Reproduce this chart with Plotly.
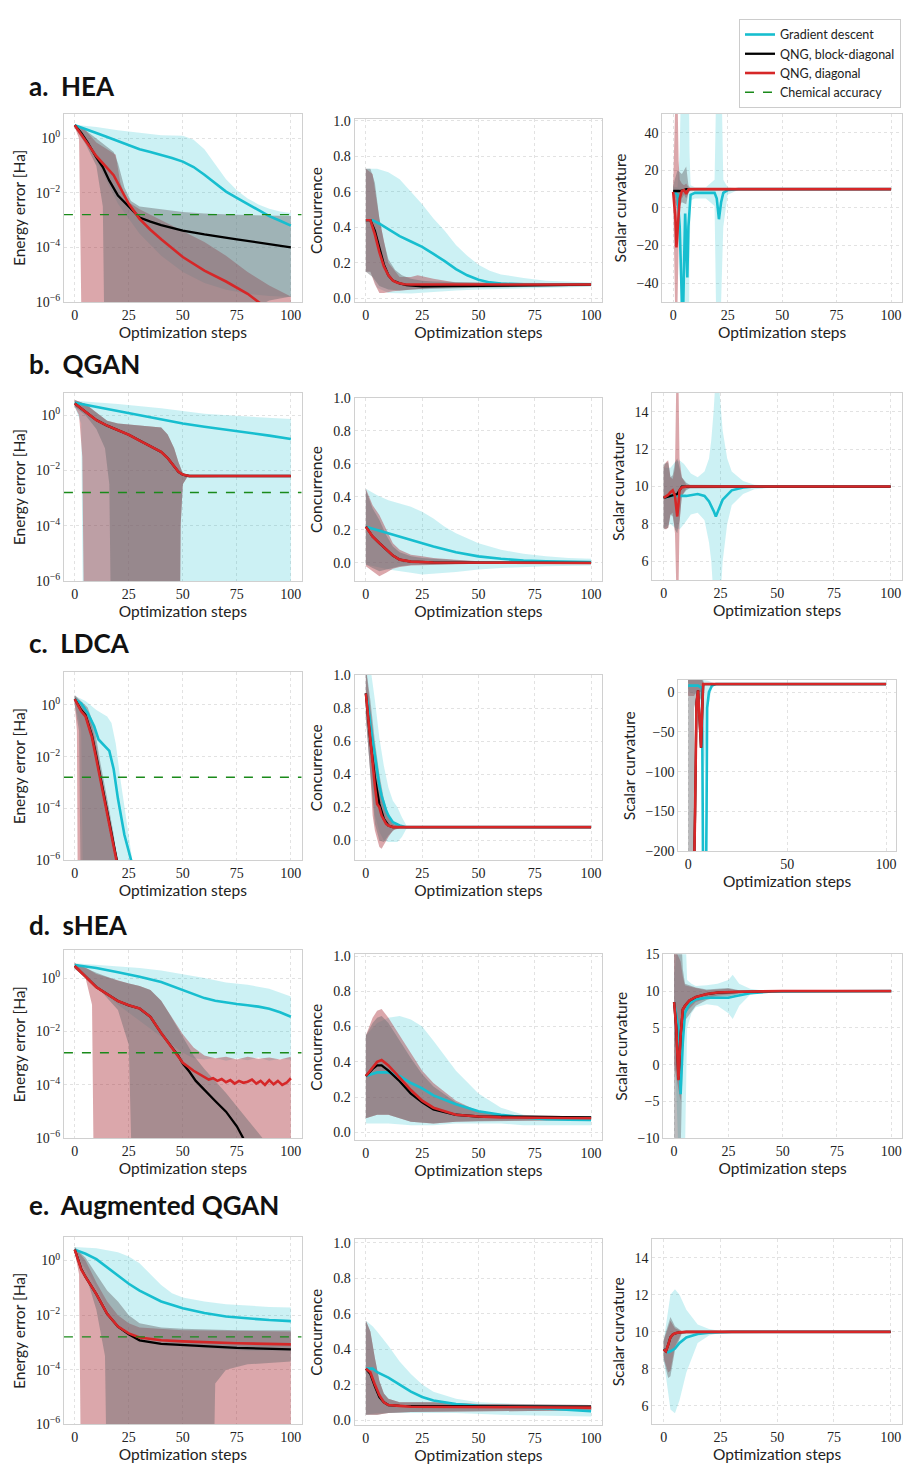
import plotly.graph_objects as go

# ---------------- DATA ----------------
CHEM_ACC = 1.6e-3
STEP_RANGE = [-5, 105]
ROW_TITLES = ["a.\u00a0 HEA", "b.\u00a0 QGAN", "c.\u00a0 LDCA", "d.\u00a0 sHEA", "e.\u00a0 Augmented QGAN"]
METHODS = ["Gradient descent", "QNG, block-diagonal", "QNG, diagonal"]

# energy values are stored as log10(energy error / Ha)
# ---- a. HEA ----
a_en_gd_x = [0,5,10,15,20,25,30,35,40,45,50,55,60,65,70,75,80,85,90,95,100]
a_en_gd = [0.48,0.35,0.2,0.05,-0.1,-0.27,-0.4,-0.5,-0.6,-0.72,-0.85,-1.05,-1.33,-1.65,-1.95,-2.18,-2.4,-2.6,-2.85,-3.02,-3.2]
a_en_gd_hx = [0,10,20,30,40,50,55,60,65,70,75,80,85,90,95,100]
a_en_gd_hi = [0.5,0.42,0.3,0.2,0.12,0.1,-0.05,-0.4,-0.95,-1.5,-1.9,-2.2,-2.42,-2.58,-2.68,-2.74]
a_en_gd_lx = [0,5,10,15,20,30,40,50,60,70,80,90,100]
a_en_gd_lo = [0.42,-0.1,-0.8,-1.6,-2.4,-3.5,-4.3,-4.9,-5.3,-5.55,-5.7,-5.78,-5.82]
a_en_bd_x = [0,3,6,10,13,16,20,25,30,35,40,50,60,75,90,100]
a_en_bd = [0.48,0.2,-0.15,-0.7,-1.05,-1.55,-2.1,-2.5,-2.9,-3.05,-3.18,-3.38,-3.52,-3.7,-3.88,-4.0]
a_en_bd_hx = [0,5,10,15,18,20,23,26,30,40,50,60,75,100]
a_en_bd_hi = [0.5,0.3,0.0,-0.3,-0.5,-0.9,-1.8,-2.3,-2.5,-2.6,-2.7,-2.75,-2.8,-2.85]
a_en_bd_lx = [0,5,10,13,14,84,86,90,100]
a_en_bd_lo = [0.4,-0.2,-1.0,-2.5,-9,-9,-6.1,-5.95,-5.8]
a_en_qd_x = [0,3,6,10,14,18,21,25,30,35,40,50,60,70,80,85,90,100]
a_en_qd = [0.48,0.15,-0.2,-0.65,-1.0,-1.35,-1.8,-2.4,-2.95,-3.35,-3.7,-4.35,-4.85,-5.25,-5.7,-6.0,-6.3,-6.8]
a_en_qd_hx = [0,5,10,15,19,21,24,30,40,50,60,70,80,90,100]
a_en_qd_hi = [0.5,0.3,-0.15,-0.4,-0.6,-1.6,-2.3,-2.6,-3.0,-3.4,-3.8,-4.3,-4.9,-5.4,-5.8]
a_en_qd_lx = [0,2,3.5,100]
a_en_qd_lo = [0.42,0.0,-9,-9]

a_co_gd_x = [0,3,6,10,15,20,25,30,35,40,45,50,55,60,70,100]
a_co_gd = [0.44,0.44,0.42,0.39,0.35,0.32,0.29,0.25,0.21,0.165,0.13,0.105,0.09,0.083,0.079,0.077]
a_co_gd_hx = [0,5,10,15,20,25,30,35,40,45,50,55,60,70,80,90,100]
a_co_gd_hi = [0.73,0.73,0.71,0.67,0.6,0.53,0.45,0.38,0.3,0.24,0.19,0.155,0.135,0.115,0.1,0.095,0.09]
a_co_gd_lx = [0,2,5,10,20,30,40,50,60,80,100]
a_co_gd_lo = [0.15,0.15,0.06,0.03,0.028,0.035,0.045,0.05,0.055,0.06,0.065]
a_co_bd_x = [0,2,4,6,8,10,12,15,18,25,40,60,100]
a_co_bd = [0.44,0.44,0.38,0.28,0.19,0.13,0.1,0.085,0.075,0.068,0.07,0.074,0.077]
a_co_bd_hx = [0,2,4,6,8,10,13,16,20,25,30,50,100]
a_co_bd_hi = [0.73,0.73,0.65,0.45,0.32,0.22,0.16,0.13,0.11,0.1,0.095,0.09,0.085]
a_co_bd_lx = [0,3,6,10,15,20,30,50,100]
a_co_bd_lo = [0.15,0.12,0.07,0.05,0.045,0.05,0.055,0.06,0.07]
a_co_qd_x = [0,2,4,6,8,10,12,14,17,20,100]
a_co_qd = [0.44,0.44,0.36,0.26,0.18,0.13,0.1,0.088,0.08,0.078,0.078]
a_co_qd_hx = [0,3,6,10,15,20,23,30,40,100]
a_co_qd_hi = [0.73,0.7,0.45,0.2,0.12,0.12,0.13,0.11,0.09,0.082]
a_co_qd_lx = [0,2,4,6,8,12,20,30,50,100]
a_co_qd_lo = [0.15,0.15,0.08,0.03,0.03,0.04,0.05,0.06,0.07,0.075]

a_cu_gd_x = [0,1,2,3,4,4.5,5,5.5,6,6.5,7,8,10,15,19,20,21,22,23,25,30,100]
a_cu_gd = [8.5,8,7,-10,-50,-60,-30,-3,-20,-37,-10,7,8,8,8,5,-6,3,8,9.5,10,10]
a_cu_gd_hx = [0,2,3,3.5,4,7,7.5,8,10,15,19,20,21,22,23,25,30,100]
a_cu_gd_hi = [11,11,30,80,90,90,30,12,11,11,15,80,90,80,15,11,10.3,10.05]
a_cu_gd_lx = a_cu_gd_hx
a_cu_gd_lo = [6,5,-10,-80,-90,-90,-30,4,5,5,1,-80,-90,-80,-10,7,9.7,9.95]
a_cu_bd_x = [0,3,5,6,100]
a_cu_bd = [9,9,9.5,10,10]
a_cu_bd_hx = [0,2,4,6,7,8,10,100]
a_cu_bd_hi = [12,20,18,22,12,10.5,10.2,10.05]
a_cu_bd_lx = a_cu_bd_hx
a_cu_bd_lo = [5,0,3,2,8,9.5,9.8,9.95]
a_cu_qd_x = [0,1,1.5,2,3,4,5,6,7,8,100]
a_cu_qd = [8.5,-5,-21,-10,5,9,9.5,7.5,9.8,10,10]
a_cu_qd_hx = [0,1,1.5,2,2.5,3,4,5,6,7,8,100]
a_cu_qd_hi = [12,60,80,60,25,15,13,12,13,11,10.3,10.1]
a_cu_qd_lx = a_cu_qd_hx
a_cu_qd_lo = [5,-60,-80,-60,-20,0,5,7,5,8,9.7,9.9]

# ---- b. QGAN ----
b_en_gd_x = [0,10,20,30,40,50,60,70,80,90,100]
b_en_gd = [0.45,0.3,0.14,-0.02,-0.17,-0.3,-0.42,-0.52,-0.63,-0.74,-0.86]
b_en_gd_hx = [0,20,40,50,60,80,100]
b_en_gd_hi = [0.52,0.4,0.25,0.15,0.05,-0.05,-0.14]
b_en_gd_lx = [0,3,4,100]
b_en_gd_lo = [0.3,-0.3,-9,-9]
b_en_bd_x = [0,5,10,15,20,25,30,35,40,43,46,48,50,53,100]
b_en_bd = [0.42,0.12,-0.18,-0.38,-0.54,-0.71,-0.92,-1.13,-1.33,-1.55,-1.85,-2.05,-2.15,-2.2,-2.2]
b_en_bd_hx = [0,5,10,15,20,30,40,43,46,48,50,52,100]
b_en_bd_hi = [0.55,0.4,0.1,-0.2,-0.3,-0.38,-0.45,-0.7,-1.2,-1.7,-2.1,-2.18,-2.18]
b_en_bd_lx = [0,5,10,14,16,17,48.5,49,50,52,100]
b_en_bd_lo = [0.3,0.0,-0.5,-1.2,-2.5,-9,-9,-4,-2.5,-2.25,-2.22]
b_en_qd_x = [0,5,10,15,20,25,30,35,40,43,46,48,50,53,100]
b_en_qd = [0.42,0.12,-0.18,-0.38,-0.54,-0.71,-0.92,-1.13,-1.33,-1.55,-1.85,-2.05,-2.15,-2.2,-2.2]
b_en_qd_hx = [0,5,10,15,20,30,40,43,46,48,50,52,100]
b_en_qd_hi = [0.55,0.4,0.1,-0.2,-0.3,-0.38,-0.45,-0.7,-1.2,-1.7,-2.1,-2.18,-2.18]
b_en_qd_lx = [0,2,3.5,4.5,48.5,49,50,52,100]
b_en_qd_lo = [0.3,0.0,-1.5,-9,-9,-4,-2.5,-2.25,-2.22]

b_co_gd_x = [0,10,20,25,30,40,50,60,70,80,100]
b_co_gd = [0.22,0.18,0.14,0.12,0.1,0.065,0.04,0.025,0.015,0.01,0.005]
b_co_gd_hx = [0,5,10,20,25,30,35,40,50,60,70,80,90,100]
b_co_gd_hi = [0.45,0.41,0.38,0.34,0.31,0.27,0.22,0.18,0.12,0.08,0.055,0.04,0.03,0.025]
b_co_gd_lx = [0,10,20,25,30,40,50,60,80,100]
b_co_gd_lo = [-0.01,-0.04,-0.06,-0.07,-0.065,-0.055,-0.04,-0.03,-0.02,-0.015]
b_co_bd_x = [0,3,6,9,12,15,20,30,40,100]
b_co_bd = [0.22,0.16,0.12,0.08,0.045,0.02,0.008,0.003,0.002,0.0]
b_co_bd_hx = [0,3,6,9,12,15,20,25,30,40,50,100]
b_co_bd_hi = [0.44,0.33,0.26,0.17,0.1,0.065,0.04,0.03,0.025,0.015,0.008,0.004]
b_co_bd_lx = [0,3,6,9,12,15,20,30,50,100]
b_co_bd_lo = [-0.01,-0.03,-0.05,-0.04,-0.03,-0.02,-0.012,-0.008,-0.004,-0.002]
b_co_qd_x = [0,3,6,9,12,15,20,30,40,100]
b_co_qd = [0.22,0.16,0.12,0.08,0.045,0.02,0.008,0.003,0.002,0.0]
b_co_qd_hx = [0,3,6,9,12,15,20,25,30,40,50,100]
b_co_qd_hi = [0.45,0.35,0.29,0.2,0.12,0.08,0.05,0.04,0.03,0.02,0.01,0.005]
b_co_qd_lx = [0,3,6,9,12,15,20,30,50,100]
b_co_qd_lo = [-0.02,-0.05,-0.08,-0.06,-0.035,-0.025,-0.015,-0.01,-0.005,-0.003]

b_cu_gd_x = [0,3,10,15,18,20,22,23,24,26,30,35,40,100]
b_cu_gd = [9.4,9.5,9.5,9.6,9.5,9.2,8.7,8.4,8.7,9.3,9.8,9.95,10,10]
b_cu_gd_hx = [0,3,5,7,9,12,15,18,20,21,22,23,24,25,26,28,30,35,40,50,100]
b_cu_gd_hi = [11,11,11.3,11.4,11.2,10.7,10.5,10.8,11.5,12.5,14,16,16,14.5,13,11.5,10.8,10.3,10.1,10.02,10.0]
b_cu_gd_lx = b_cu_gd_hx
b_cu_gd_lo = [7.8,8,7.8,7.7,8,8.5,8.6,8.2,7,6,4,0,0,4,6,8,9,9.6,9.85,9.97,10]
b_cu_bd_x = [0,3,5,6,8,100]
b_cu_bd = [9.4,9.5,9.6,9.6,10,10]
b_cu_bd_hx = [0,2,3,4,5,6,7,8,10,12,100]
b_cu_bd_hi = [11.2,11.3,10.5,10.6,11.3,11.5,11,10.5,10.2,10.05,10.0]
b_cu_bd_lx = b_cu_bd_hx
b_cu_bd_lo = [7.7,7.8,8.5,8.4,7.7,7.5,8.2,9.5,9.8,9.95,10]
b_cu_qd_x = [0,2,3,4,5,5.5,6,6.5,7,8,10,100]
b_cu_qd = [9.4,9.55,9.7,9.8,9.5,9.0,8.4,9.0,9.8,9.95,10,10]
b_cu_qd_hx = [0,1,2,3,4,5,5.5,6,6.5,7,8,10,100]
b_cu_qd_hi = [11,11.3,11.4,10.5,10.4,11,15,20,16,11.5,10.5,10.1,10.02]
b_cu_qd_lx = b_cu_qd_hx
b_cu_qd_lo = [7.8,7.7,7.8,8.5,8.6,7.5,5,0,4,8,9.5,9.9,9.98]

# ---- c. LDCA ----
c_en_gd_x = [0,3,6,9,11,14,16,18,20,23,26,28]
c_en_gd = [0.22,0.05,-0.32,-0.83,-1.34,-1.6,-1.78,-2.48,-3.63,-5.03,-6.0,-6.6]
c_en_gd_hx = [0,5,10,15,17,19,21,23,25,27,29]
c_en_gd_hi = [0.35,0.15,-0.2,-0.45,-0.7,-1.5,-2.8,-4,-5,-6.2,-7]
c_en_gd_lx = [0,3,4,29]
c_en_gd_lo = [0.1,-1,-9,-9]
c_en_bd_x = [0,3,5,8,10,13,16,19,21]
c_en_bd = [0.22,-0.2,-0.4,-1.2,-2.0,-3.3,-4.6,-5.8,-6.6]
c_en_bd_hx = [0,3,6,9,12,15,18,20,22]
c_en_bd_hi = [0.38,0.15,-0.1,-0.8,-2.3,-3.6,-5,-6.2,-7]
c_en_bd_lx = [0,2,3,22]
c_en_bd_lo = [0,-1,-9,-9]
c_en_qd_x = [0,3,5,8,10,13,16,19,20]
c_en_qd = [0.22,-0.25,-0.45,-1.27,-2.1,-3.38,-4.65,-5.9,-6.3]
c_en_qd_hx = [0,3,5,8,10,13,16,19,21]
c_en_qd_hi = [0.35,0.1,-0.1,-0.8,-1.6,-3,-4.3,-5.6,-6.5]
c_en_qd_lx = [0,1,1.5,21]
c_en_qd_lo = [0,-1,-9,-9]

c_co_gd_x = [0,1,2,3,4,5,6,7,8,9,10,12,15,18,100]
c_co_gd = [0.89,0.82,0.7,0.6,0.5,0.4,0.33,0.27,0.22,0.18,0.15,0.11,0.09,0.08,0.08]
c_co_gd_hx = [0,2,4,6,8,10,12,14,16,18,19,100]
c_co_gd_hi = [1.05,1.05,0.85,0.62,0.45,0.32,0.24,0.2,0.14,0.09,0.08,0.08]
c_co_gd_lx = [0,2,4,6,8,10,14,16,18,19,100]
c_co_gd_lo = [0.75,0.4,0.15,0.05,0.0,-0.01,-0.01,0.02,0.07,0.08,0.08]
c_co_bd_x = [0,2,4,6,8,10,12,100]
c_co_bd = [0.89,0.6,0.38,0.22,0.13,0.09,0.08,0.08]
c_co_bd_hx = [0,2,4,6,8,10,12,15,100]
c_co_bd_hi = [1.05,0.85,0.6,0.4,0.25,0.15,0.1,0.085,0.08]
c_co_bd_lx = [0,2,4,6,8,10,13,100]
c_co_bd_lo = [0.75,0.4,0.1,0.0,-0.01,0.03,0.07,0.08]
c_co_qd_x = [0,1,2,3,4,5,6,7,8,9,10,12,15,100]
c_co_qd = [0.89,0.75,0.58,0.44,0.33,0.22,0.2,0.15,0.12,0.1,0.09,0.08,0.08,0.08]
c_co_qd_hx = [0,2,4,6,8,10,12,15,100]
c_co_qd_hi = [1.05,0.8,0.55,0.35,0.22,0.14,0.1,0.085,0.08]
c_co_qd_lx = [0,2,3,4,6,7,8,10,12,15,100]
c_co_qd_lo = [0.75,0.4,0.15,0.06,-0.04,-0.05,-0.03,0.02,0.06,0.075,0.08]

c_cu_gd_x = [0,5,7,7.3,7.6,8.5,9,9.3,9.6,10.5,12,14,100]
c_cu_gd = [8,8,5,-100,-250,-300,-250,-150,-20,0,8,10,10]
c_cu_gd_hx = [0,7,8,10,12,14,100]
c_cu_gd_hi = [15,15,15,14,12,10.5,10]
c_cu_gd_lx = c_cu_gd_hx
c_cu_gd_lo = [0,-5,-100,-20,5,9.5,10]
c_cu_bd_x = [0,2.5,3.5,4.2,5,5.5,6,6.5,7,7.6,10,100]
c_cu_bd = [-400,-300,-150,-14,2,-20,-50,-70,-30,10,10,10]
c_cu_bd_hx = [0,7,8,10,100]
c_cu_bd_hi = [20,20,11,10.2,10]
c_cu_bd_lx = [0,2.8,3,4,5,6,7,8,10,100]
c_cu_bd_lo = [-400,-400,-20,-10,-5,-10,-5,9,9.8,10]
c_cu_qd_x = [0,2.5,3.5,4.2,5,5.5,6,6.5,7,7.6,10,100]
c_cu_qd = [-400,-300,-150,-14,2,-20,-50,-70,-30,10,10,10]
c_cu_qd_hx = [0,7,8,100]
c_cu_qd_hi = [15,15,10.5,10]
c_cu_qd_lx = [0,3,4,7,8,100]
c_cu_qd_lo = [-5,-5,0,0,9.5,10]

# ---- d. sHEA ----
d_en_gd_x = [0,10,20,30,40,50,55,60,65,70,75,80,85,90,95,100]
d_en_gd = [0.49,0.38,0.22,0.05,-0.15,-0.45,-0.62,-0.75,-0.85,-0.92,-0.97,-1.02,-1.07,-1.15,-1.28,-1.45]
d_en_gd_hx = [0,10,20,30,40,50,60,70,80,90,100]
d_en_gd_hi = [0.55,0.5,0.45,0.38,0.28,0.15,0.0,-0.17,-0.25,-0.4,-0.69]
d_en_gd_lx = [0,10,20,30,40,50,55,60,65,70,75,80,85,90,95,100]
d_en_gd_lo = [0.4,-0.3,-1.0,-1.6,-2.2,-2.8,-3.0,-3.05,-2.98,-3.1,-3.0,-3.08,-2.97,-3.1,-3.02,-3.05]
d_en_bd_x = [0,10,20,25,30,35,40,45,48,50,53,56,60,65,70,75,80]
d_en_bd = [0.45,-0.34,-0.86,-1.02,-1.14,-1.45,-2.06,-2.61,-2.92,-3.2,-3.5,-3.85,-4.2,-4.6,-5.0,-5.55,-6.3]
d_en_bd_hx = [0,10,20,30,35,40,45,50,55,60,70,80,87,95]
d_en_bd_hi = [0.55,0.2,-0.1,-0.3,-0.45,-0.85,-1.5,-2.2,-2.9,-3.4,-4.3,-5.3,-6.0,-6.8]
d_en_bd_lx = [0,10,20,25,27,95]
d_en_bd_lo = [0.35,-0.3,-1.2,-2.5,-9,-9]
d_en_qd_x = [0,10,20,25,30,35,40,45,48,50,55,60,62,64,66,68,70,72,74,76,78,80,82,84,86,88,90,92,94,96,98,100]
d_en_qd = [0.45,-0.34,-0.86,-1.02,-1.14,-1.45,-2.06,-2.61,-2.92,-3.17,-3.47,-3.72,-3.8,-3.75,-3.85,-3.78,-3.9,-3.82,-3.95,-3.85,-3.92,-3.88,-3.8,-3.95,-3.85,-4.0,-3.82,-3.98,-3.85,-4.0,-3.92,-3.75]
d_en_qd_hx = [0,5,10,20,25,30,35,40,45,50,55,60,65,70,75,80,85,90,95,100]
d_en_qd_hi = [0.55,0.4,0.15,-0.1,-0.2,-0.3,-0.45,-0.85,-1.5,-2.1,-2.6,-2.9,-3.0,-2.95,-3.05,-2.95,-3.02,-2.97,-3.05,-2.95]
d_en_qd_lx = [0,5,8,9,100]
d_en_qd_lo = [0.35,0.0,-1.0,-9,-9]

d_co_gd_x = [0,5,10,15,20,25,30,40,50,60,70,80,90,100]
d_co_gd = [0.32,0.34,0.34,0.32,0.28,0.25,0.21,0.16,0.12,0.1,0.085,0.075,0.072,0.07]
d_co_gd_hx = [0,5,10,15,20,25,30,40,50,60,70,80,100]
d_co_gd_hi = [0.55,0.62,0.65,0.66,0.64,0.6,0.52,0.35,0.22,0.14,0.1,0.09,0.09]
d_co_gd_lx = [0,5,10,20,30,40,50,60,70,80,100]
d_co_gd_lo = [0.05,0.05,0.05,0.04,0.04,0.05,0.05,0.05,0.04,0.04,0.04]
d_co_bd_x = [0,3,5,7,10,15,20,25,30,40,50,100]
d_co_bd = [0.32,0.36,0.38,0.38,0.35,0.29,0.22,0.17,0.13,0.1,0.09,0.085]
d_co_bd_hx = [0,3,5,7,10,15,20,25,30,40,50,60,100]
d_co_bd_hi = [0.55,0.62,0.65,0.66,0.62,0.52,0.42,0.33,0.26,0.17,0.12,0.1,0.09]
d_co_bd_lx = [0,5,10,15,20,30,40,50,100]
d_co_bd_lo = [0.08,0.1,0.1,0.08,0.06,0.05,0.06,0.065,0.07]
d_co_qd_x = [0,3,5,7,10,15,20,25,30,40,50,60,100]
d_co_qd = [0.32,0.37,0.4,0.41,0.38,0.31,0.24,0.18,0.14,0.1,0.09,0.085,0.08]
d_co_qd_hx = [0,3,5,7,10,15,20,25,30,40,50,60,100]
d_co_qd_hi = [0.55,0.65,0.69,0.7,0.65,0.55,0.45,0.35,0.28,0.18,0.12,0.1,0.09]
d_co_qd_lx = [0,5,10,15,20,30,40,50,100]
d_co_qd_lo = [0.08,0.1,0.1,0.08,0.06,0.05,0.06,0.065,0.07]

d_cu_gd_x = [0,1,2,3,4,5,7,10,15,20,25,28,35,45,100]
d_cu_gd = [8.5,7,5,-4,3,7,8.3,8.9,9.1,9.1,9.1,9.3,9.7,9.95,10]
d_cu_gd_hx = [0,2,3,5,6,8,10,15,20,25,27,30,35,40,50,100]
d_cu_gd_hi = [12,20,20,20,11.5,11,10.7,10.8,11,11.5,12.2,11,10.3,10.1,10,10]
d_cu_gd_lx = d_cu_gd_hx
d_cu_gd_lo = [5,-12,-12,-12,5,7,7.8,8.2,8.0,7,6.2,8,9.5,9.8,10,10]
d_cu_bd_x = [0,1,2,3,4,5,7,10,15,20,30,50,100]
d_cu_bd = [8.5,5,-2,4,7.5,8.0,8.7,9.2,9.6,9.8,9.9,10,10]
d_cu_bd_hx = [0,3,4,5,10,15,20,25,30,40,100]
d_cu_bd_hi = [20,20,13,11,10.5,10.2,10.3,10.4,10.1,10,10]
d_cu_bd_lx = d_cu_bd_hx
d_cu_bd_lo = [-12,-12,2,6,8,8.8,9.2,9.3,9.6,9.9,10]
d_cu_qd_x = [0,1,2,3,4,5,7,10,15,20,30,50,100]
d_cu_qd = [8.5,5,-2.1,4,7.5,8.0,8.7,9.2,9.6,9.8,9.9,10,10]
d_cu_qd_hx = [0,3,4,5,10,15,20,25,30,40,100]
d_cu_qd_hi = [16,14,12,10.8,10.4,10.1,10.2,10.3,10.05,10,10]
d_cu_qd_lx = d_cu_qd_hx
d_cu_qd_lo = [0,-5,4,7,8.5,9,9.4,9.5,9.7,9.95,10]

# ---- e. Augmented QGAN ----
e_en_gd_x = [0,5,10,15,20,25,30,35,40,50,60,70,80,90,100]
e_en_gd = [0.4,0.25,0.05,-0.25,-0.55,-0.85,-1.1,-1.3,-1.5,-1.75,-1.92,-2.05,-2.12,-2.18,-2.22]
e_en_gd_hx = [0,10,20,25,30,35,40,45,50,60,70,80,90,100]
e_en_gd_hi = [0.5,0.45,0.3,0.15,-0.1,-0.5,-0.9,-1.2,-1.35,-1.5,-1.6,-1.65,-1.7,-1.72]
e_en_gd_lx = [0,5,10,15,20,30,40,60,80,100]
e_en_gd_lo = [0.3,-0.3,-1.0,-1.8,-2.4,-2.8,-3.0,-3.2,-3.3,-3.3]
e_en_bd_x = [0,3,5,10,15,20,25,30,40,50,75,100]
e_en_bd = [0.4,-0.3,-0.6,-1.23,-1.95,-2.42,-2.7,-2.92,-3.05,-3.1,-3.2,-3.25]
e_en_bd_hx = [0,5,10,15,20,25,30,40,50,75,100]
e_en_bd_hi = [0.5,0.1,-0.5,-1.1,-1.5,-2.0,-2.3,-2.45,-2.5,-2.55,-2.55]
e_en_bd_lx = [0,5,10,14,15,64,65,70,80,100]
e_en_bd_lo = [0.3,-0.5,-1.8,-3.5,-9,-9,-4.5,-4.0,-3.8,-3.7]
e_en_qd_x = [0,3,5,10,15,20,25,30,40,50,75,100]
e_en_qd = [0.4,-0.33,-0.6,-1.23,-1.95,-2.42,-2.67,-2.82,-2.92,-2.96,-3.03,-3.07]
e_en_qd_hx = [0,5,10,15,20,25,30,50,100]
e_en_qd_hi = [0.5,0.0,-0.8,-1.5,-2.0,-2.3,-2.45,-2.55,-2.6]
e_en_qd_lx = [0,2,3,100]
e_en_qd_lo = [0.3,-0.5,-9,-9]

e_co_gd_x = [0,3,5,10,15,20,25,30,40,50,60,80,100]
e_co_gd = [0.29,0.29,0.27,0.24,0.2,0.16,0.13,0.11,0.09,0.08,0.075,0.065,0.05]
e_co_gd_hx = [0,3,5,10,15,20,25,30,40,50,70,100]
e_co_gd_hi = [0.56,0.53,0.5,0.42,0.33,0.26,0.2,0.16,0.12,0.1,0.09,0.08]
e_co_gd_lx = [0,5,10,20,40,60,80,100]
e_co_gd_lo = [0.03,0.04,0.04,0.04,0.04,0.03,0.025,0.02]
e_co_bd_x = [0,2,4,6,8,10,15,100]
e_co_bd = [0.29,0.26,0.19,0.13,0.1,0.085,0.08,0.075]
e_co_bd_hx = [0,2,4,6,8,10,15,30,50,100]
e_co_bd_hi = [0.56,0.5,0.35,0.22,0.15,0.12,0.1,0.1,0.09,0.085]
e_co_bd_lx = [0,2,5,10,20,50,100]
e_co_bd_lo = [0.03,0.03,0.03,0.04,0.045,0.05,0.055]
e_co_qd_x = [0,2,4,6,8,10,15,20,100]
e_co_qd = [0.29,0.27,0.2,0.14,0.1,0.085,0.08,0.075,0.07]
e_co_qd_hx = [0,2,4,6,8,10,15,30,50,100]
e_co_qd_hi = [0.56,0.5,0.35,0.22,0.15,0.12,0.1,0.1,0.09,0.085]
e_co_qd_lx = [0,2,5,10,20,50,100]
e_co_qd_lo = [0.03,0.03,0.03,0.04,0.045,0.05,0.055]

e_cu_gd_x = [0,1,2,3,5,7,10,15,20,30,100]
e_cu_gd = [9.05,9.0,8.9,8.95,9.1,9.4,9.7,9.88,9.95,10,10]
e_cu_gd_hx = [0,2,3,5,7,10,15,20,25,30,100]
e_cu_gd_hi = [9.5,11,12,12.3,12,11.2,10.4,10.15,10.05,10,10]
e_cu_gd_lx = e_cu_gd_hx
e_cu_gd_lo = [8.5,6.8,5.8,5.6,6.3,7.8,9.4,9.8,9.95,10,10]
e_cu_bd_x = [0,1,2,3,4,5,7,10,100]
e_cu_bd = [9.05,8.95,9.3,9.7,9.85,9.92,9.97,10,10]
e_cu_bd_hx = [0,2,3,5,8,100]
e_cu_bd_hi = [9.6,10.5,10.8,10.3,10.05,10]
e_cu_bd_lx = e_cu_bd_hx
e_cu_bd_lo = [8.5,7.5,7.6,9,9.9,10]
e_cu_qd_x = [0,1,2,3,4,5,7,10,100]
e_cu_qd = [9.05,8.95,9.3,9.7,9.85,9.92,9.97,10,10]
e_cu_qd_hx = [0,2,3,5,8,100]
e_cu_qd_hi = [9.5,10.3,10.6,10.2,10.03,10]
e_cu_qd_lx = e_cu_qd_hx
e_cu_qd_lo = [8.6,7.8,7.9,9.2,9.95,10]

# ---------------- STYLE / LAYOUT ----------------
W, H = 905, 1471
LINE_COLORS = ["#17becf", "#000000", "#d62728"]
FILL_COLORS = ["rgba(23,190,207,0.22)", "rgba(110,110,116,0.48)", "rgba(170,45,55,0.42)"]
FILL_ORDER = [0, 2, 1]   # cyan band, then red band, then grey (block-diagonal) band on top
LINE_WIDTHS = [2.6, 2.3, 2.6]
SANS = "Lato, 'DejaVu Sans', sans-serif"
SERIF = "'Liberation Serif', 'DejaVu Serif', serif"

# panel boxes in pixels (left, top, right, bottom)
BOXES = [
    (64,108,302,298),(355,113,603,298),(663,108,903,298),
    (64,390,302,580),(355,395,603,580),(653,390,903,579),
    (64,672,302,862),(355,675,603,862),(679,680,897,853),
    (64,953,302,1143),(355,957,603,1145),(664,957,903,1143),
    (64,1243,302,1432),(355,1245,603,1433),(653,1245,903,1432),
]
TITLE_Y = [80, 361, 643, 927, 1210]
Y_RANGES = [
    [-6,0.9],[-0.02,1.01],[-50,50],
    [-6,0.8],[-0.11,1.0],[5,15],
    [-6,1.26],[-0.12,1.0],[-200,15],
    [-6,1.04],[-0.045,1.01],[-10,15],
    [-6,0.85],[-0.03,1.02],[5,15],
]
CURV_TICKS = [[-40,-20,0,20,40],[6,8,10,12,14],[-200,-150,-100,-50,0],[-10,-5,0,5,10,15],[6,8,10,12,14]]

g = globals()
fig = go.Figure()

def ax_names(k):
    return ("x" if k == 1 else f"x{k}", "y" if k == 1 else f"y{k}")

rows = ["a", "b", "c", "d", "e"]
kinds = ["en", "co", "cu"]
meths = ["gd", "bd", "qd"]

for r, rp in enumerate(rows):
    for c, kind in enumerate(kinds):
        k = r * 3 + c + 1
        xa, ya = ax_names(k)
        is_log = kind == "en"
        conv = (lambda v: [10 ** t for t in v]) if is_log else (lambda v: list(v))
        for m in FILL_ORDER:
            pre = f"{rp}_{kind}_{meths[m]}"
            hx, hi, lx, lo = g[pre + "_hx"], g[pre + "_hi"], g[pre + "_lx"], g[pre + "_lo"]
            fig.add_trace(go.Scatter(
                x=list(hx) + list(lx)[::-1], y=conv(list(hi) + list(lo)[::-1]),
                fill="toself", fillcolor=FILL_COLORS[m], line=dict(width=0),
                mode="lines", hoverinfo="skip", showlegend=False, xaxis=xa, yaxis=ya))
        for m, mp in enumerate(meths):
            pre = f"{rp}_{kind}_{mp}"
            fig.add_trace(go.Scatter(
                x=g[pre + "_x"], y=conv(g[pre]), mode="lines",
                line=dict(color=LINE_COLORS[m], width=LINE_WIDTHS[m]),
                name=METHODS[m], legendgroup=METHODS[m], showlegend=(k == 1),
                xaxis=xa, yaxis=ya))
        if is_log:
            fig.add_trace(go.Scatter(
                x=STEP_RANGE, y=[CHEM_ACC, CHEM_ACC], mode="lines",
                line=dict(color="#1a8a1a", width=1.4, dash="dash"),
                name="Chemical accuracy", legendgroup="chem", showlegend=(k == 1),
                xaxis=xa, yaxis=ya))

layout = dict(
    width=W, height=H, margin=dict(l=0, r=0, t=0, b=0),
    plot_bgcolor="white", paper_bgcolor="white",
    font=dict(family=SANS, size=14, color="#222222"),
    legend=dict(x=902 / W, y=1 - 12 / H, xanchor="right", yanchor="top",
                bgcolor="white", bordercolor="#cccccc", borderwidth=1,
                font=dict(family=SANS, size=12.5, color="#222222"),
                itemwidth=30, tracegroupgap=0),
    annotations=[], showlegend=True,
)

for r in range(5):
    layout["annotations"].append(dict(
        text=f"<b>{ROW_TITLES[r]}</b>", xref="paper", yref="paper",
        x=27 / W, y=1 - TITLE_Y[r] / H, xanchor="left", yanchor="middle",
        showarrow=False, font=dict(family=SANS, size=26, color="#111111")))
    for c in range(3):
        k = r * 3 + c + 1
        L, T, R, B = BOXES[k - 1]
        xk = "xaxis" if k == 1 else f"xaxis{k}"
        yk = "yaxis" if k == 1 else f"yaxis{k}"
        xa, ya = ax_names(k)
        common = dict(showgrid=True, gridcolor="#e2e2e2", griddash="dot", gridwidth=1,
                      zeroline=False, showline=True, linecolor="#d0d0d0", linewidth=1,
                      mirror=True, ticks="", tickfont=dict(family=SERIF, size=14, color="#222222"))
        xtv = [0, 50, 100] if k == 9 else [0, 25, 50, 75, 100]
        layout[xk] = dict(domain=[L / W, R / W], anchor=ya, range=STEP_RANGE,
                          tickvals=xtv, ticktext=[str(v) for v in xtv],
                          title=dict(text="Optimization steps", standoff=4,
                                     font=dict(family=SANS, size=15.5, color="#222222")),
                          **common)
        ydom = [1 - B / H, 1 - T / H]
        if c == 0:
            yv = [1e-6, 1e-4, 1e-2, 1]
            layout[yk] = dict(domain=ydom, anchor=xa, type="log", range=Y_RANGES[k - 1],
                              tickvals=yv,
                              ticktext=["10<sup>\u22126</sup>", "10<sup>\u22124</sup>", "10<sup>\u22122</sup>", "10<sup>0</sup>"],
                              title=dict(text="Energy error [Ha]", standoff=6,
                                         font=dict(family=SANS, size=15.5, color="#222222")),
                              **common)
        elif c == 1:
            yv = [0, 0.2, 0.4, 0.6, 0.8, 1.0]
            layout[yk] = dict(domain=ydom, anchor=xa, range=Y_RANGES[k - 1],
                              tickvals=yv, ticktext=[f"{v:.1f}" for v in yv],
                              title=dict(text="Concurrence", standoff=6,
                                         font=dict(family=SANS, size=15.5, color="#222222")),
                              **common)
        else:
            yv = CURV_TICKS[r]
            layout[yk] = dict(domain=ydom, anchor=xa, range=Y_RANGES[k - 1],
                              tickvals=yv, ticktext=[str(v).replace("-", "\u2212") for v in yv],
                              title=dict(text="Scalar curvature", standoff=6,
                                         font=dict(family=SANS, size=15.5, color="#222222")),
                              **common)

fig.update_layout(**layout)
fig.write_html("out.html", config={"displayModeBar": False},
               post_script="document.body.style.margin='0px';document.body.style.overflow='hidden';")
